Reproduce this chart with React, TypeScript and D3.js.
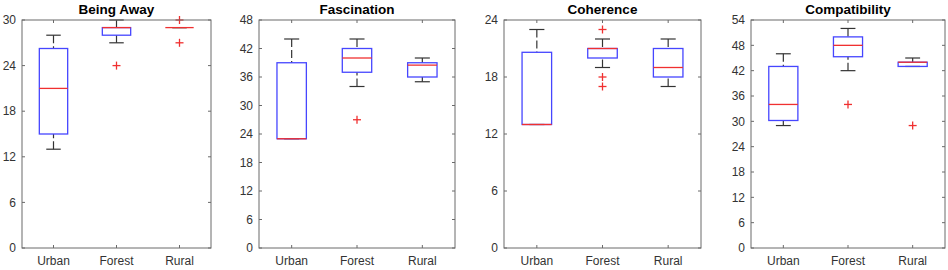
import React from "react";
import * as d3 from "d3";

const categories = ["Urban", "Forest", "Rural"];
const titles = ["Being Away", "Fascination", "Coherence", "Compatibility"];
const yMax = [30, 48, 24, 54];
const q1 = [
  [15, 28, 29],
  [23, 37, 36],
  [13, 20, 18],
  [30.2, 45.3, 43],
];
const medians = [
  [21, 29, 29],
  [23, 40, 38.5],
  [13, 21, 19],
  [34, 48, 44],
];
const q3 = [
  [26.25, 29, 29],
  [39, 42, 39],
  [20.6, 21, 21],
  [43, 50, 44],
];
const whiskerLow = [
  [13, 27, 29],
  [23, 34, 35],
  [13, 19, 17],
  [29, 42, 43],
];
const whiskerHigh = [
  [28, 30, 29],
  [44, 44, 40],
  [23, 22, 22],
  [46, 52, 45],
];
const outliers = [
  [[], [24], [30, 27]],
  [[], [27], []],
  [[], [23, 18, 17], []],
  [[], [34], [29]],
];

const panelX = [
  [22, 211],
  [259, 455],
  [504, 701],
  [751, 945],
];
const TOP = 20;
const BOTTOM = 248;
const FONT = "'Liberation Sans', Arial, Helvetica, sans-serif";
const AXIS = "#6a6a6a";
const TEXT = "#333";
const BLUE = "#4646ff";
const RED = "#f03030";
const WHISK = "#333";

function Panel({ i }: { i: number }) {
  const [x0, x1] = panelX[i];
  const x = d3.scaleLinear().domain([0.5, 3.5]).range([x0, x1]);
  const y = d3.scaleLinear().domain([0, yMax[i]]).range([BOTTOM, TOP]);
  const ticks = d3.range(0, yMax[i] + 0.001, 6);
  const unit = x(2) - x(1);
  const bw = 0.45 * unit;
  const cw = 0.23 * unit;
  const tl = 3;
  return (
    <g>
      <text
        x={(x0 + x1) / 2}
        y={14}
        textAnchor="middle"
        fontFamily={FONT}
        fontWeight="bold"
        fontSize={13.5}
        fill="#000"
      >
        {titles[i]}
      </text>
      {ticks.map((t) => (
        <g key={t}>
          <line x1={x0} x2={x0 + tl} y1={y(t)} y2={y(t)} stroke={AXIS} />
          <line x1={x1} x2={x1 - tl} y1={y(t)} y2={y(t)} stroke={AXIS} />
          <text
            x={x0 - 6}
            y={y(t)}
            dy="0.35em"
            textAnchor="end"
            fontFamily={FONT}
            fontSize={12}
            fill={TEXT}
          >
            {t}
          </text>
        </g>
      ))}
      {categories.map((c, k) => (
        <g key={c}>
          <line x1={x(k + 1)} x2={x(k + 1)} y1={BOTTOM} y2={BOTTOM - tl} stroke={AXIS} />
          <line x1={x(k + 1)} x2={x(k + 1)} y1={TOP} y2={TOP + tl} stroke={AXIS} />
          <text
            x={x(k + 1)}
            y={265}
            textAnchor="middle"
            fontFamily={FONT}
            fontSize={12}
            fill={TEXT}
          >
            {c}
          </text>
        </g>
      ))}
      {categories.map((c, k) => {
        const cx = x(k + 1);
        return (
          <g key={"b" + c}>
            {whiskerHigh[i][k] > q3[i][k] && (
              <line x1={cx} x2={cx} y1={y(whiskerHigh[i][k])} y2={y(q3[i][k])} stroke={WHISK} strokeWidth={1.2} strokeDasharray="8,3" />
            )}
            {whiskerLow[i][k] < q1[i][k] && (
              <line x1={cx} x2={cx} y1={y(whiskerLow[i][k])} y2={y(q1[i][k])} stroke={WHISK} strokeWidth={1.2} strokeDasharray="8,3" />
            )}
            <line x1={cx - cw / 2} x2={cx + cw / 2} y1={y(whiskerHigh[i][k])} y2={y(whiskerHigh[i][k])} stroke={WHISK} strokeWidth={1.2} />
            <line x1={cx - cw / 2} x2={cx + cw / 2} y1={y(whiskerLow[i][k])} y2={y(whiskerLow[i][k])} stroke={WHISK} strokeWidth={1.2} />
            <rect
              x={cx - bw / 2}
              y={y(q3[i][k])}
              width={bw}
              height={Math.max(0, y(q1[i][k]) - y(q3[i][k]))}
              fill="none"
              stroke={BLUE}
              strokeWidth={1.3}
            />
            <line x1={cx - bw / 2} x2={cx + bw / 2} y1={y(medians[i][k])} y2={y(medians[i][k])} stroke={RED} strokeWidth={1.3} />
            {outliers[i][k].map((o, j) => (
              <g key={j} stroke={RED} strokeWidth={1.3}>
                <line x1={cx - 4} x2={cx + 4} y1={y(o)} y2={y(o)} />
                <line x1={cx} x2={cx} y1={y(o) - 4} y2={y(o) + 4} />
              </g>
            ))}
          </g>
        );
      })}
      <rect x={x0} y={TOP} width={x1 - x0} height={BOTTOM - TOP} fill="none" stroke={AXIS} strokeWidth={1} />
    </g>
  );
}

export default function App() {
  return (
    <svg
      width={948}
      height={270}
      style={{ position: "absolute", left: 0, top: 0, background: "#fff" }}
    >
      <rect width={948} height={270} fill="#fff" />
      {titles.map((t, i) => (
        <Panel key={t} i={i} />
      ))}
    </svg>
  );
}
